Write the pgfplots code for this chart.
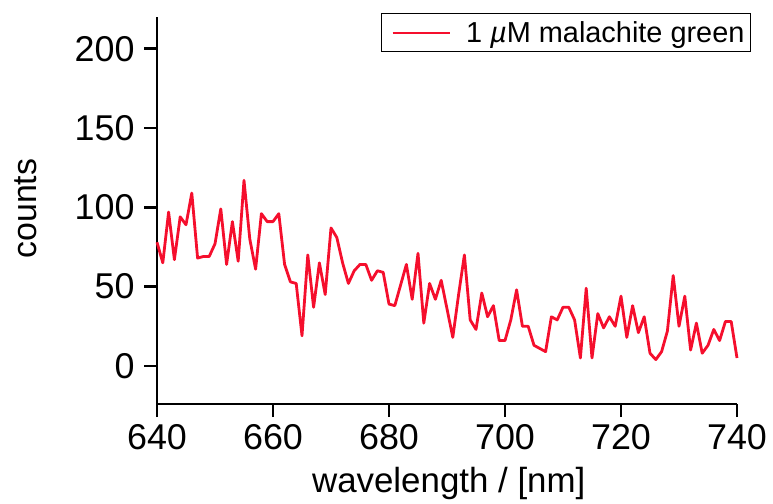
\documentclass[border=0pt]{standalone}
\usepackage{fontspec}
\setmainfont{Liberation Sans}
\usepackage{pgfplots}
\pgfplotsset{compat=1.18}
\usepackage{pgfplotstable}

\definecolor{specred}{RGB}{245,15,45}

% emission spectrum, counts per 1 nm step
\pgfplotstableread{
wl counts
640 78
641 65
642 97
643 67
644 94
645 89
646 109
647 68
648 69
649 69
650 77
651 99
652 64
653 91
654 66
655 117
656 80
657 61
658 96
659 91
660 91
661 96
662 64
663 53
664 52
665 19
666 70
667 37
668 65
669 45
670 87
671 81
672 65
673 52
674 60
675 64
676 64
677 54
678 60
679 59
680 39
681 38
682 51
683 64
684 42
685 71
686 27
687 52
688 42
689 54
690 36
691 18
692 45
693 70
694 29
695 23
696 46
697 31
698 38
699 16
700 16
701 29
702 48
703 25
704 25
705 13
706 11
707 9
708 31
709 29
710 37
711 37
712 29
713 5
714 49
715 5
716 33
717 24
718 31
719 25
720 44
721 18
722 38
723 21
724 31
725 8
726 4
727 9
728 22
729 57
730 25
731 44
732 10
733 27
734 8
735 13
736 23
737 16
738 28
739 28
740 5
}\spectrum

\begin{document}
\begin{tikzpicture}
\begin{axis}[
  scale only axis,
  width=580bp, height=387bp,
  xmin=640, xmax=740,
  ymin=-24, ymax=220,
  axis lines=left,
  x axis line style={-, line width=2.5bp},
  y axis line style={-, line width=2.5bp},
  tick style={line width=2.5bp, black},
  tick align=outside,
  major tick length=13bp,
  xtick={640,660,...,740},
  ytick={0,50,...,200},
  minor tick num=0,
  /pgf/number format/assume math mode=true,
  /pgf/number format/set thousands separator={},
  ticklabel style={font=\fontsize{36}{36}\selectfont},
  xticklabel style={yshift=-4bp},
  yticklabel style={xshift=-6bp},
  xlabel={wavelength / [nm]},
  ylabel={counts},
  every axis x label/.style={at={(axis description cs:0.503,-0.2274)}, anchor=base,
    font=\fontsize{35}{35}\selectfont},
  every axis y label/.style={at={(axis description cs:-0.207,0.505)}, rotate=90, anchor=base,
    font=\fontsize{34}{34}\selectfont},
  legend style={
    at={(rel axis cs:1.0241,1.0103)}, anchor=north east,
    draw=black, line width=1bp,
    font=\fontsize{29}{29}\selectfont,
    inner xsep=4bp, inner ysep=6bp,
  },
  legend image code/.code={%
    \path (-6bp,0bp) (70bp,0bp);
    \draw[#1, line width=1.8bp] (0bp,0bp) -- (57bp,0bp);},
  clip=false,
]
\addplot[specred, line width=2.8bp, line join=round] table[x=wl, y=counts] {\spectrum};
\addlegendentry{1 \textit{µ}M malachite green}
\end{axis}
\pgfresetboundingbox
\path (-157bp,-100bp) rectangle (616bp,404bp);
\end{tikzpicture}
\end{document}
